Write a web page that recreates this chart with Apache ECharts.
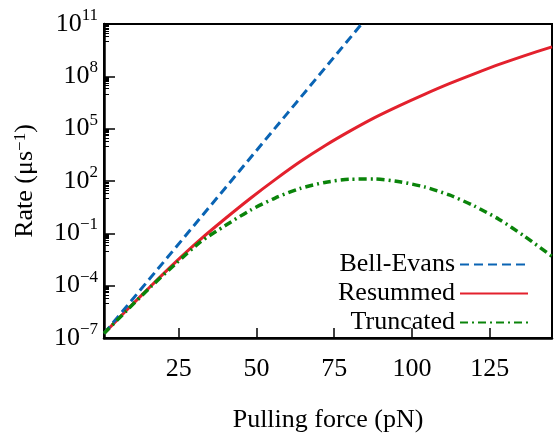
<!DOCTYPE html>
<html>
<head>
<meta charset="utf-8">
<script src="https://cdn.jsdelivr.net/npm/echarts@6/dist/echarts.min.js"></script>
<style>
  html, body { margin: 0; padding: 0; background: #fff; }
  #chart { width: 554px; height: 438px; }
</style>
</head>
<body>
<div id="chart"></div>
<script>
// values (force in pN, rate in 1/us)
const bellForce = [1, 20, 40, 60, 83.8]
const bellRate = [1.8e-7, 2.1e-3, 40, 7.8e5, 1e11]

const resumForce = [1, 8, 16, 24, 32, 40, 48, 56, 64, 72, 80, 88, 96, 104, 112, 120, 128, 136, 145]
const resumRate = [1.82e-7, 3.5e-6, 9.3e-5, 2.24e-3, 4.5e-2, 0.71, 10, 120, 1.26e3, 1.05e4, 7.2e4, 4.3e5, 2.1e6, 9.3e6, 3.8e7, 1.38e8, 4.8e8, 1.5e9, 4.9e9]

const truncForce = [1, 8, 16, 24, 32, 40, 48, 56, 64, 72, 80, 88, 96, 104, 112, 120, 128, 136, 145]
const truncRate = [1.82e-7, 3.3e-6, 8.5e-5, 1.78e-3, 3.2e-2, 0.28, 2.1, 10.5, 37, 83, 126, 129, 91, 46, 15.8, 3.7, 0.63, 7.1e-2, 4.8e-3]

const xTicks = [25, 50, 75, 100, 125]
const yTicks = [1e-7, 1e-4, 1e-1, 1e2, 1e5, 1e8, 1e11]

// minor ticks like gnuplot: 1..9 x 10^(k+2) inside each 3-decade step
const yMinor = []
for (let k = -7; k < 11; k += 3) {
  for (let m = 1; m <= 9; m++) yMinor.push(m * Math.pow(10, k + 2))
}

const font = "'Liberation Serif', 'Times New Roman', serif"

function pairs (xs, ys) {
  return xs.map((x, i) => [x, ys[i]])
}

const chart = echarts.init(document.getElementById('chart'))

const option = {
  animation: false,
  grid: {
    left: 104,
    right: 2,
    top: 24,
    bottom: 90,
    show: true,
    borderColor: '#000',
    borderWidth: 2
  },
  legend: {
    right: 20,
    top: 245,
    orient: 'vertical',
    align: 'right',
    itemWidth: 68,
    itemHeight: 14,
    itemGap: 0,
    itemStyle: { opacity: 0 },
    textStyle: { fontFamily: font, fontSize: 26, color: '#000', lineHeight: 29 },
    data: ['Bell-Evans', 'Resummed', 'Truncated']
  },
  xAxis: {
    type: 'value',
    min: 1,
    max: 145,
    name: 'Pulling force (pN)',
    nameLocation: 'middle',
    nameGap: 69,
    nameTextStyle: { fontFamily: font, fontSize: 26, color: '#000' },
    axisLine: { lineStyle: { color: '#000', width: 2.5 } },
    axisTick: { inside: true, length: 10, lineStyle: { color: '#000', width: 1.5 }, customValues: xTicks },
    axisLabel: { fontFamily: font, fontSize: 26, color: '#000', margin: 18, customValues: xTicks },
    splitLine: { show: false }
  },
  yAxis: [{
    type: 'log',
    min: 1e-7,
    max: 1e11,
    name: 'Rate (μs{sup|−1})',
    nameLocation: 'middle',
    nameRotate: 90,
    nameGap: 66,
    nameTextStyle: {
      fontFamily: font,
      fontSize: 26,
      color: '#000',
      rich: {
        sup: { fontFamily: font, fontSize: 17, verticalAlign: 'top', lineHeight: 16 }
      }
    },
    axisLine: { lineStyle: { color: '#000', width: 2.5 } },
    axisTick: { inside: true, length: 11, lineStyle: { color: '#000', width: 1.5 }, customValues: yTicks },
    axisLabel: {
      margin: 6,
      customValues: yTicks,
      formatter: function (v) {
        const e = Math.round(Math.log10(v))
        return '{b|10}{sup|' + String(e).replace('-', '−') + '}'
      },
      rich: {
        b: { fontFamily: font, fontSize: 26, color: '#000', lineHeight: 34 },
        sup: { fontFamily: font, fontSize: 17, color: '#000', verticalAlign: 'top', lineHeight: 17 }
      }
    },
    splitLine: { show: false },
    minorTick: { show: false }
  }, {
    // only used to draw the small log ticks along the left side
    type: 'log',
    min: 1e-7,
    max: 1e11,
    position: 'right',
    offset: -448,
    axisLine: { show: false },
    axisTick: { inside: false, length: 5, lineStyle: { color: '#000', width: 1 }, customValues: yMinor },
    axisLabel: { show: false },
    splitLine: { show: false }
  }],
  series: [{
    name: 'Bell-Evans',
    type: 'line',
    symbol: 'none',
    data: pairs(bellForce, bellRate),
    lineStyle: { color: '#0a64b4', width: 3, type: [9, 5] },
    itemStyle: { color: '#0a64b4' },
    z: 3
  }, {
    name: 'Resummed',
    type: 'line',
    symbol: 'none',
    smooth: 0.25,
    data: pairs(resumForce, resumRate),
    lineStyle: { color: '#e3212d', width: 3 },
    itemStyle: { color: '#e3212d' },
    z: 2
  }, {
    name: 'Truncated',
    type: 'line',
    symbol: 'none',
    smooth: 0.25,
    data: pairs(truncForce, truncRate),
    lineStyle: { color: '#0a840a', width: 3.5, type: [8, 4, 2, 4] },
    itemStyle: { color: '#0a840a' },
    z: 4
  }]
}

chart.setOption(option)
</script>
</body>
</html>
